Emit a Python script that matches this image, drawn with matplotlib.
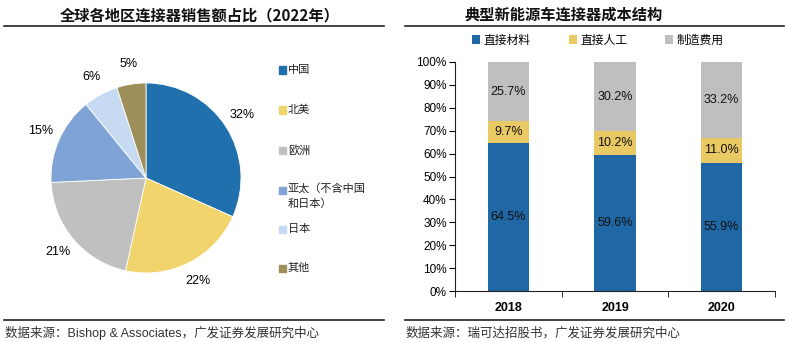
"""Two-panel figure: global connector sales share (pie) + NEV connector cost structure (stacked bars)."""

import matplotlib
matplotlib.use("Agg")
import matplotlib.pyplot as plt
from matplotlib.lines import Line2D
from matplotlib.patches import Rectangle
import numpy as np

plt.rcParams["font.family"] = ["Liberation Sans", "Noto Sans CJK SC", "DejaVu Sans"]

W, H = 788, 342
CJK = ["Noto Sans CJK SC", "DejaVu Sans"]
MIX = ["Liberation Sans", "Noto Sans CJK SC", "DejaVu Sans"]

# --- pie data ---
regions = ["中国", "北美", "欧洲", "亚太（不含中国\n和日本）", "日本", "其他"]
region_share = [32, 22, 21, 15, 6, 5]
region_colors = ["#2070AE", "#F2D46D", "#C0C0C0", "#7FA3D5", "#C6DAF2", "#9E8F5A"]

# --- stacked bar data ---
years = ["2018", "2019", "2020"]
cost_items = ["直接材料", "直接人工", "制造费用"]
material = [64.5, 59.6, 55.9]
labour = [9.7, 10.2, 11.0]
overhead = [25.7, 30.2, 33.2]
cost_colors = ["#1F67A5", "#E9C963", "#BFBFBF"]


def px(x, y, w, h):
    """pixel box (top-left origin) -> figure fraction rect"""
    return [x / W, 1 - (y + h) / H, w / W, h / H]


fig = plt.figure(figsize=(W / 100, H / 100), dpi=100)

# headers / footers
for x0, x1, tx, title, src in [
    (4, 384, 200, "全球各地区连接器销售额占比（2022年）",
     "数据来源：Bishop & Associates，广发证券发展研究中心"),
    (405, 784, 564, "典型新能源车连接器成本结构",
     "数据来源：瑞可达招股书，广发证券发展研究中心"),
]:
    fig.add_artist(Line2D([x0 / W, x1 / W], [1 - 26 / H] * 2, color="#222222", lw=1.2))
    fig.add_artist(Line2D([x0 / W, x1 / W], [1 - 320 / H] * 2, color="#222222", lw=1.2))
    fig.text(tx / W, 1 - 15 / H, title, ha="center", va="center", fontsize=11,
             fontweight="bold", family=CJK, color="#111111")
    fig.text((x0 + 1) / W, 1 - 333 / H, src, ha="left", va="center", fontsize=9,
             family=MIX, color="#333333")

# --- pie ---
cx, cy, r = 146, 178, 95
half = r * 1.25
ax1 = fig.add_axes(px(cx - half, cy - half, 2 * half, 2 * half))
wedges, texts = ax1.pie(
    region_share, colors=region_colors, startangle=90, counterclock=False,
    labels=[f"{v}%" for v in region_share], labeldistance=1.21,
    wedgeprops=dict(edgecolor="white", linewidth=0.6),
)
for t in texts:
    t.set_ha("center")
    t.set_va("center")
    t.set_fontsize(9)
    t.set_family(MIX)
ax1.set_xlim(-1.25, 1.25)
ax1.set_ylim(-1.25, 1.25)
ax1.set_aspect("equal")
ax1.axis("off")

# legend for pie, one entry every ~40px; two-line label hangs from the marker row
leg_y = [70, 110, 150, 190, 229, 268]
for name, col, y in zip(regions, region_colors, leg_y):
    fig.add_artist(Rectangle((279 / W, 1 - (y + 3.5) / H), 7 / W, 7 / H,
                             color=col, transform=fig.transFigure))
    two_line = "\n" in name
    fig.text(288 / W, 1 - (y - 7 if two_line else y) / H, name, ha="left",
             va="top" if two_line else "center", fontsize=8, family=CJK,
             color="#222222", linespacing=1.5)

# --- stacked bars ---
ax2 = fig.add_axes(px(455, 62, 320, 229))
x = np.arange(len(years))
bw = 0.39
bottom = np.zeros(len(years))
for vals, col, name in zip([material, labour, overhead], cost_colors, cost_items):
    ax2.bar(x, vals, bw, bottom=bottom, color=col, label=name, edgecolor="none")
    for xi, b, v in zip(x, bottom, vals):
        ax2.text(xi, b + v / 2, f"{v:.1f}%", ha="center", va="center", fontsize=9,
                 color="#111111")
    bottom += np.array(vals)

ax2.set_xlim(-0.5, 2.5)
ax2.set_ylim(0, 100)
ax2.set_yticks(np.arange(0, 101, 10))
ax2.set_yticklabels([f"{v}%" for v in range(0, 101, 10)], fontsize=8.5)
ax2.set_xticks(x)
ax2.set_xticklabels(years, fontsize=9, fontweight="bold")
ax2.set_xticks([-0.5, 0.5, 1.5, 2.5], minor=True)
ax2.tick_params(axis="x", which="major", length=0, pad=8)
ax2.tick_params(axis="x", which="minor", length=4, direction="out")
ax2.tick_params(axis="y", length=4, direction="out", pad=2)
for s in ["top", "right"]:
    ax2.spines[s].set_visible(False)
for s in ["left", "bottom"]:
    ax2.spines[s].set_color("#222222")

fig.legend(*ax2.get_legend_handles_labels(), loc="center", ncol=3,
           bbox_to_anchor=(598 / W, 1 - 40 / H), frameon=False,
           handlelength=0.7, handleheight=0.7, handletextpad=0.3,
           columnspacing=3.2, prop=dict(family=CJK, size=8.5))

fig.savefig("out.png", dpi=100)
